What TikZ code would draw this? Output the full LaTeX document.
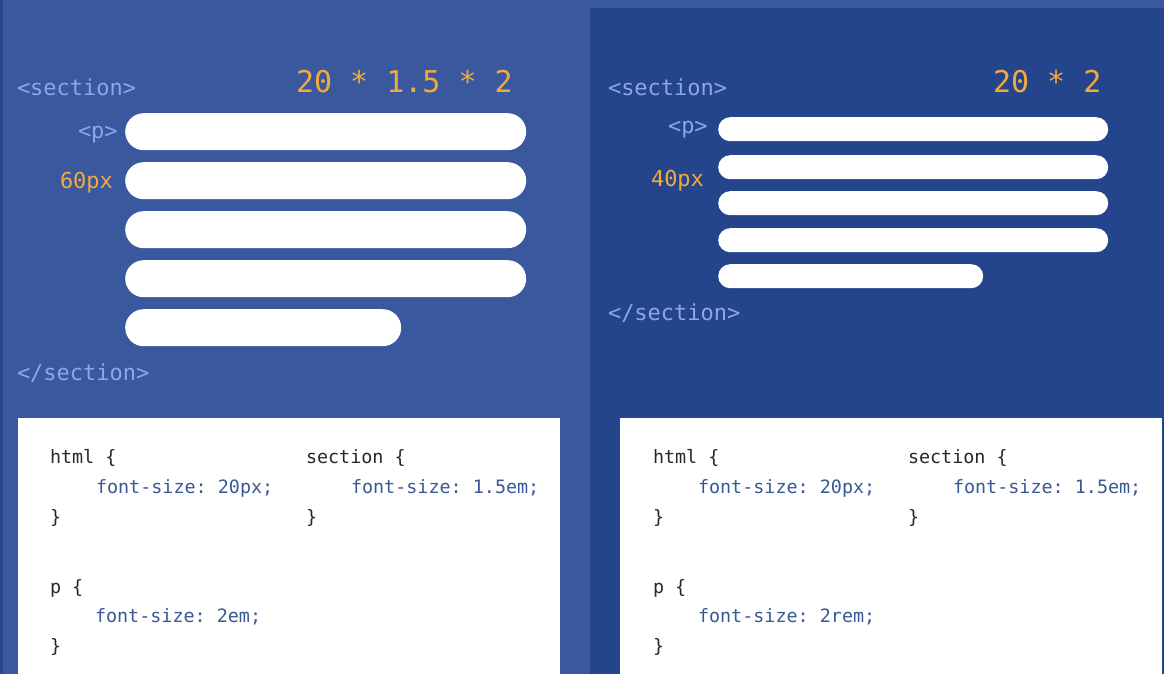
\documentclass[tikz,border=0pt]{standalone}
\usepackage{fontspec}
\newfontfamily\mono{DejaVu Sans Mono}
\frenchspacing
\definecolor{bgL}{RGB}{57,88,158}
\definecolor{bgR}{RGB}{36,68,140}
\definecolor{edgeL}{RGB}{40,70,140}
\definecolor{tagc}{RGB}{140,166,230}
\definecolor{orng}{RGB}{240,170,62}
\definecolor{codek}{RGB}{40,40,40}
\definecolor{codeb}{RGB}{58,88,150}
\begin{document}
\begin{tikzpicture}[x=1pt,y=-1pt,
  txt/.style={anchor=base west,inner sep=0pt,outer sep=0pt},
  tag/.style={txt,text=tagc,font=\mono\frenchspacing\fontsize{22}{26}\selectfont},
  calc/.style={txt,text=orng,font=\mono\frenchspacing\fontsize{30}{34}\selectfont},
  size/.style={txt,text=orng,font=\mono\frenchspacing\fontsize{22}{26}\selectfont},
  ck/.style={txt,text=codek,font=\mono\frenchspacing\fontsize{18.4}{22}\selectfont},
  cb/.style={txt,text=codeb,font=\mono\frenchspacing\fontsize{18.4}{22}\selectfont},
  barL/.style={fill=white,draw=none,rounded corners=18.5pt,minimum height=37pt,inner sep=0pt,anchor=north west},
  barR/.style={fill=white,draw=none,rounded corners=12pt,minimum height=24pt,inner sep=0pt,anchor=north west}]
\useasboundingbox (0,0) rectangle (1164,674);
% backgrounds
\fill[bgL] (0,0) rectangle (1164,674);
\fill[edgeL] (0,0) rectangle (3,674);
\fill[bgR] (590,8) rectangle (1164,674);
\fill[white] (18,418) rectangle (560,674);
\fill[white] (620,418) rectangle (1162,674);
% ---------- left panel ----------
\node[tag] (ls) at (17,96) {<section>};
\node[tag] (lp) at (78,139) {<p>};
\node[size] (l60) at (60,188) {60px};
\node[calc] (lcalc) at (296,93) {20 * 1.5 * 2};
\node[barL,minimum width=401pt] (lb1) at (125,113) {};
\node[barL,minimum width=401pt] (lb2) at (125,162) {};
\node[barL,minimum width=401pt] (lb3) at (125,211) {};
\node[barL,minimum width=401pt] (lb4) at (125,260) {};
\node[barL,minimum width=276pt] (lb5) at (125,309) {};
\node[tag] (lse) at (17,380) {</section>};
% ---------- right panel ----------
\node[tag] (rs) at (608,96) {<section>};
\node[tag] (rp) at (668,134) {<p>};
\node[size] (r40) at (651,186) {40px};
\node[calc] (rcalc) at (993,93) {20 * 2};
\node[barR,minimum width=390pt] (rb1) at (718,117) {};
\node[barR,minimum width=390pt] (rb2) at (718,155) {};
\node[barR,minimum width=390pt] (rb3) at (718,191) {};
\node[barR,minimum width=390pt] (rb4) at (718,228) {};
\node[barR,minimum width=265pt] (rb5) at (718,264) {};
\node[tag] (rse) at (608,320) {</section>};
% ---------- left code ----------
\node[ck] (lh1) at (50,463) {html \{};
\node[cb] (lh2) at (96,493) {font-size: 20px;};
\node[ck] (lh3) at (50,523) {\}};
\node[ck] (ls1) at (306,463) {section \{};
\node[cb] (ls2) at (351,493) {font-size: 1.5em;};
\node[ck] (ls3) at (306,523) {\}};
\node[ck] (lp1) at (50,593) {p \{};
\node[cb] (lp2) at (95,622) {font-size: 2em;};
\node[ck] (lp3) at (50,652) {\}};
% ---------- right code ----------
\node[ck] (rh1) at (653,463) {html \{};
\node[cb] (rh2) at (698,493) {font-size: 20px;};
\node[ck] (rh3) at (653,523) {\}};
\node[ck] (rs1) at (908,463) {section \{};
\node[cb] (rs2) at (953,493) {font-size: 1.5em;};
\node[ck] (rs3) at (908,523) {\}};
\node[ck] (rp1) at (653,593) {p \{};
\node[cb] (rp2) at (698,622) {font-size: 2rem;};
\node[ck] (rp3) at (653,652) {\}};
\end{tikzpicture}
\end{document}
